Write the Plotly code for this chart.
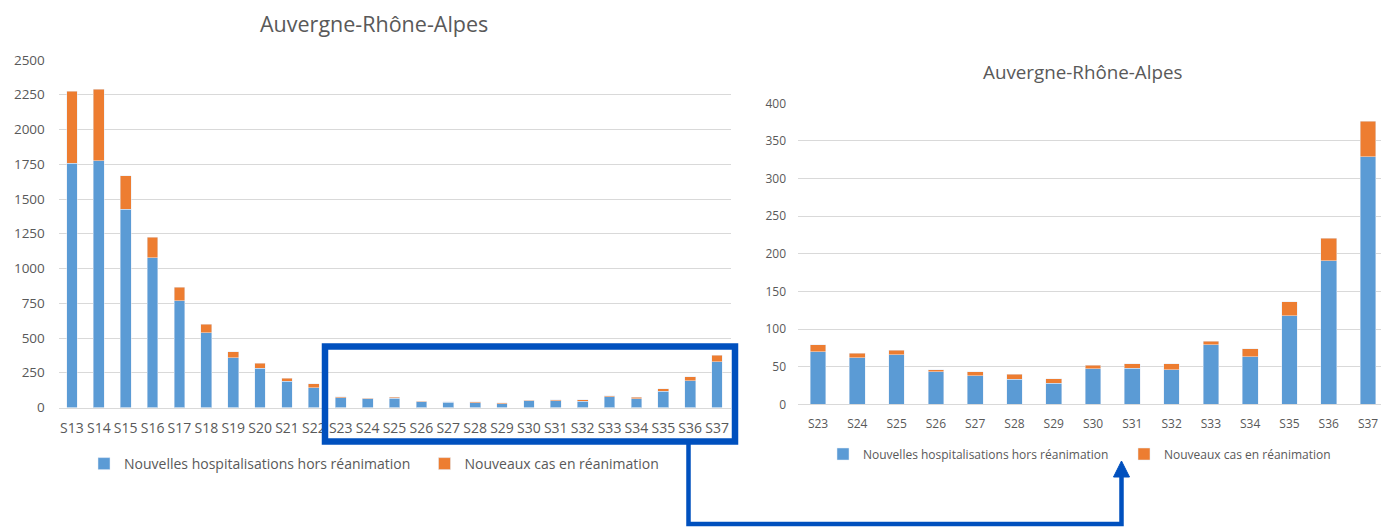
import plotly.graph_objects as go

# ---- data ----
weeks = ["S13", "S14", "S15", "S16", "S17", "S18", "S19", "S20", "S21", "S22",
         "S23", "S24", "S25", "S26", "S27", "S28", "S29", "S30", "S31", "S32",
         "S33", "S34", "S35", "S36", "S37"]
hosp = [1759, 1776, 1428, 1079, 767, 538, 358, 284, 190, 141,
        70, 62, 66, 43, 38, 33, 28, 47, 48, 46,
        79, 63, 118, 191, 329]
rea = [516, 512, 238, 147, 99, 62, 43, 36, 20, 30,
       9, 6, 6, 3, 5, 7, 6, 5, 6, 8,
       5, 11, 18, 30, 47]
zoom_start = weeks.index("S23")
zoom_weeks = weeks[zoom_start:]
zoom_hosp = hosp[zoom_start:]
zoom_rea = rea[zoom_start:]

name_hosp = "Nouvelles hospitalisations hors réanimation"
name_rea = "Nouveaux cas en réanimation"
title = "Auvergne-Rhône-Alpes"

BLUE = "#5B9BD5"
ORANGE = "#ED7D31"
GRID = "#D9D9D9"
TXT = "#595959"
FRAME = "#0050BE"
FONT = "Open Sans"

W, H = 1381, 528


def px(x):
    return x / W


def py(y):
    return 1 - y / H


fig = go.Figure()
fig.add_trace(go.Bar(x=weeks, y=hosp, name=name_hosp, marker_color=BLUE,
                     xaxis="x", yaxis="y", legend="legend"))
fig.add_trace(go.Bar(x=weeks, y=rea, name=name_rea, marker_color=ORANGE,
                     xaxis="x", yaxis="y", legend="legend"))
fig.add_trace(go.Bar(x=zoom_weeks, y=zoom_hosp, name=name_hosp, marker_color=BLUE,
                     xaxis="x2", yaxis="y2", legend="legend2"))
fig.add_trace(go.Bar(x=zoom_weeks, y=zoom_rea, name=name_rea, marker_color=ORANGE,
                     xaxis="x2", yaxis="y2", legend="legend2"))

axis_common = dict(showgrid=False, showline=True, linecolor=GRID, linewidth=1,
                   ticks="outside", tickcolor="rgba(0,0,0,0)", automargin=False,
                   type="category", fixedrange=True)
yaxis_common = dict(showgrid=True, gridcolor=GRID, gridwidth=1, zeroline=False,
                    showline=False, ticks="outside", tickcolor="rgba(0,0,0,0)",
                    automargin=False, fixedrange=True)

fig.update_layout(
    width=W, height=H,
    margin=dict(l=0, r=0, t=0, b=0, autoexpand=False),
    paper_bgcolor="white", plot_bgcolor="white",
    barmode="stack", bargap=0.6,
    font=dict(family=FONT, color=TXT),
    xaxis=dict(axis_common, domain=[px(58.5), px(730.5)], range=[-0.5, 24.5],
               ticklen=8, tickfont=dict(size=14), anchor="y"),
    yaxis=dict(yaxis_common, domain=[py(407.5), py(60)], range=[0, 2500], dtick=250,
               ticklen=10, tickfont=dict(size=13.5), anchor="x"),
    xaxis2=dict(axis_common, domain=[px(798.4), 1], range=[-0.5, 14.33],
                ticklen=8, tickfont=dict(size=12), anchor="y2"),
    yaxis2=dict(yaxis_common, domain=[py(404.3), py(103.3)], range=[0, 400], dtick=50,
                ticklen=9, tickfont=dict(size=12), anchor="x2"),
    legend=dict(orientation="h", x=px(84), y=py(464), xanchor="left", yanchor="middle",
                entrywidth=295.5, entrywidthmode="pixels", itemwidth=30,
                font=dict(size=14, color=TXT), bgcolor="rgba(0,0,0,0)",
                traceorder="normal", itemclick=False, itemdoubleclick=False),
    legend2=dict(orientation="h", x=px(823), y=py(454), xanchor="left", yanchor="middle",
                 entrywidth=256, entrywidthmode="pixels", itemwidth=30,
                 font=dict(size=12, color=TXT), bgcolor="rgba(0,0,0,0)",
                 traceorder="normal", itemclick=False, itemdoubleclick=False),
    showlegend=True,
)

fig.add_annotation(text=title, x=px(374), y=py(23), xref="paper", yref="paper",
                   showarrow=False, xanchor="center", yanchor="middle",
                   font=dict(size=21.5, color=TXT, family=FONT))
fig.add_annotation(text=title, x=px(1082), y=py(72), xref="paper", yref="paper",
                   showarrow=False, xanchor="center", yanchor="middle",
                   font=dict(size=18.8, color=TXT, family=FONT))

# zoom frame around S23-S37 on the left chart
fig.add_shape(type="rect", xref="paper", yref="paper",
              x0=px(325), x1=px(735), y0=py(441.5), y1=py(346.5),
              line=dict(color=FRAME, width=6.5), layer="above")
# connector to the right chart
path = "M {:.5f},{:.5f} L {:.5f},{:.5f} L {:.5f},{:.5f} L {:.5f},{:.5f}".format(
    px(688.5), py(441.5), px(688.5), py(524), px(1121.5), py(524), px(1121.5), py(475))
fig.add_shape(type="path", xref="paper", yref="paper", path=path,
              line=dict(color=FRAME, width=4.5), layer="above")
head = "M {:.5f},{:.5f} L {:.5f},{:.5f} L {:.5f},{:.5f} Z".format(
    px(1113.5), py(477), px(1129.5), py(477), px(1121.5), py(461))
fig.add_shape(type="path", xref="paper", yref="paper", path=head,
              line=dict(color=FRAME, width=1), fillcolor=FRAME, layer="above")

fig.write_html(
    "out.html",
    config={"displayModeBar": False},
    post_script="document.body.style.margin='0';document.body.style.overflow='hidden';",
)
